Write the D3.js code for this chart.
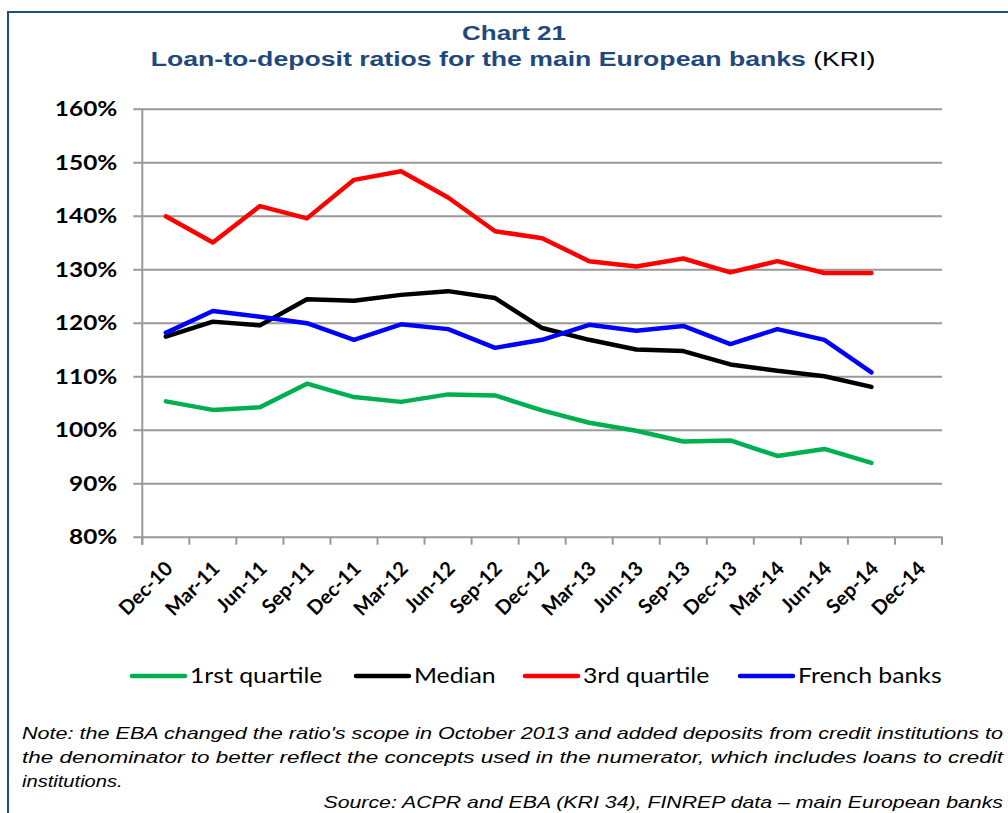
<!DOCTYPE html>
<html>
<head>
<meta charset="utf-8">
<script src="https://cdn.jsdelivr.net/npm/d3@7"></script>
<style>
  html, body { margin: 0; padding: 0; background: #fff; }
  svg { display: block; }
</style>
</head>
<body>
<svg id="chart" width="1008" height="813"></svg>
<script>
// Quarter-end dates on the category axis
const quarters = ["Dec-10","Mar-11","Jun-11","Sep-11","Dec-11","Mar-12","Jun-12","Sep-12",
  "Dec-12","Mar-13","Jun-13","Sep-13","Dec-13","Mar-14","Jun-14","Sep-14","Dec-14"];

// Loan-to-deposit ratios, in percent
const firstQuartile = [105.3,103.7,104.2,108.6,106.1,105.2,106.6,106.4,103.6,101.3,99.8,97.8,98.0,95.1,96.4,93.8];
const median        = [117.4,120.2,119.5,124.4,124.1,125.2,125.9,124.6,119.0,116.8,115.0,114.7,112.2,111.0,110.0,108.0];
const thirdQuartile = [139.9,135.0,141.8,139.5,146.7,148.3,143.4,137.1,135.8,131.5,130.5,132.0,129.4,131.5,129.3,129.3];
const frenchBanks   = [118.1,122.2,121.1,119.9,116.8,119.7,118.8,115.3,116.8,119.6,118.5,119.4,116.0,118.8,116.8,110.7];

const yTicks = [80,90,100,110,120,130,140,150,160];

const seriesNames  = ["1rst quartile","Median","3rd quartile","French banks"];
const seriesColors = ["#00B050","#000000","#FF0000","#0000FF"];
const seriesValues = [firstQuartile, median, thirdQuartile, frenchBanks];

const svg = d3.select("#chart");
const frameColor = "#1F4E79";
const titleColor = "#1F497D";
const arial = "Liberation Sans, Arial, sans-serif";
const labelFont = "Lato, 'Open Sans', sans-serif";
const gridColor = "#999999";

// Stretch a text node horizontally so it spans the given width around its anchor
function fitWidth(sel, width, ax, ay) {
  const w = sel.node().getComputedTextLength();
  const s = width / w;
  sel.attr("transform", `translate(${ax},${ay}) scale(${s},1)`).attr("x", 0).attr("y", 0);
}

// Frame: top rule and left rule
svg.append("line").attr("x1", 8).attr("x2", 1008).attr("y1", 12).attr("y2", 12)
  .attr("stroke", frameColor).attr("stroke-width", 2);
svg.append("line").attr("x1", 8).attr("x2", 8).attr("y1", 11).attr("y2", 813)
  .attr("stroke", frameColor).attr("stroke-width", 2);

// Titles
const t1 = svg.append("text").attr("text-anchor", "middle")
  .attr("font-family", arial).attr("font-weight", "bold")
  .attr("font-size", 21).attr("fill", titleColor).text("Chart 21");
fitWidth(t1, 104, 514, 40);
const t2 = svg.append("text").attr("text-anchor", "middle")
  .attr("font-family", arial).attr("font-size", 21);
t2.append("tspan").attr("font-weight", "bold").attr("fill", titleColor)
  .text("Loan-to-deposit ratios for the main European banks");
t2.append("tspan").attr("fill", "#000").text(" (KRI)");
fitWidth(t2, 725, 513, 66);

// Plot area
const plotLeft = 142.3, plotRight = 942, plotTop = 108.7, plotBottom = 536.7;

const x = d3.scaleBand().domain(quarters).range([plotLeft, plotRight]);
const y = d3.scaleLinear().domain([80, 160]).range([plotBottom, plotTop]);

// Horizontal gridlines with y axis labels
const yAxis = d3.axisLeft(y).tickValues(yTicks).tickSize(0)
  .tickSizeOuter(0).tickPadding(16).tickFormat(d => d + "%");
const gy = svg.append("g").attr("transform", `translate(${plotLeft - 9},0)`).call(yAxis);
gy.select(".domain").remove();
gy.selectAll(".tick line").attr("stroke", gridColor).attr("stroke-width", 2)
  .attr("x1", 0).attr("x2", plotRight - plotLeft + 9);
gy.selectAll(".tick text").attr("font-family", labelFont).attr("font-weight", "bold")
  .attr("font-size", 20).attr("fill", "#000").attr("dy", "0.36em")
  .attr("x", 0).attr("transform", "translate(-16,0) scale(1.22,1)");

// Vertical axis line
svg.append("line").attr("x1", plotLeft).attr("x2", plotLeft).attr("y1", plotTop).attr("y2", plotBottom + 8)
  .attr("stroke", gridColor).attr("stroke-width", 2);

// Category axis: tick marks on band boundaries, labels centered in bands
const boundaries = quarters.map(q => x(q)).concat([plotRight]);
svg.append("g").selectAll("line").data(boundaries).join("line")
  .attr("x1", d => d).attr("x2", d => d).attr("y1", plotBottom).attr("y2", plotBottom + 8)
  .attr("stroke", gridColor).attr("stroke-width", 2);

svg.append("g").selectAll("text").data(quarters).join("text")
  .attr("transform", d => `translate(${x(d) + x.bandwidth() / 2 - 2},${plotBottom + 23}) rotate(-45)`)
  .attr("text-anchor", "end").attr("dy", "0.72em")
  .attr("font-family", labelFont).attr("font-weight", "bold").attr("font-size", 20)
  .attr("fill", "#000").text(d => d);

// Series lines
const line = d3.line()
  .x((d, i) => x(quarters[i]) + x.bandwidth() / 2)
  .y(d => y(d));

seriesValues.forEach((vals, k) => {
  svg.append("path").datum(vals).attr("d", line).attr("fill", "none")
    .attr("stroke", seriesColors[k]).attr("stroke-width", 4.5)
    .attr("stroke-linejoin", "round").attr("stroke-linecap", "round");
});

// Legend
const legendX = [132, 356, 525, 740];
const legend = svg.append("g");
seriesNames.forEach((name, k) => {
  legend.append("line").attr("x1", legendX[k]).attr("x2", legendX[k] + 53)
    .attr("y1", 676).attr("y2", 676).attr("stroke", seriesColors[k])
    .attr("stroke-width", 4.5).attr("stroke-linecap", "round");
  legend.append("text").attr("text-anchor", "start")
    .attr("font-family", labelFont).attr("font-size", 21).attr("fill", "#000").text(name)
    .attr("transform", `translate(${legendX[k] + 58},683) scale(1.18,1)`);
});

// Note and source
const noteLines = [
  "Note: the EBA changed the ratio's scope in October 2013 and added deposits from credit institutions to",
  "the denominator to better reflect the concepts used in the numerator, which includes loans to credit",
  "institutions."
];
noteLines.forEach((t, i) => {
  const el = svg.append("text").attr("x", 22).attr("y", 739 + i * 24)
    .attr("font-family", arial).attr("font-style", "italic").attr("font-size", 16.5)
    .attr("fill", "#000").text(t);
  if (i < noteLines.length - 1) {
    el.attr("textLength", 981).attr("lengthAdjust", "spacingAndGlyphs");
  } else {
    el.attr("x", 0).attr("y", 0).attr("transform", `translate(22,${739 + i * 24}) scale(1.22,1)`);
  }
});
const src = svg.append("text").attr("text-anchor", "end")
  .attr("font-family", arial).attr("font-style", "italic").attr("font-size", 16.5)
  .attr("fill", "#000").text("Source: ACPR and EBA (KRI 34), FINREP data \u2013 main European banks");
fitWidth(src, 680, 1003, 808);
</script>
</body>
</html>
